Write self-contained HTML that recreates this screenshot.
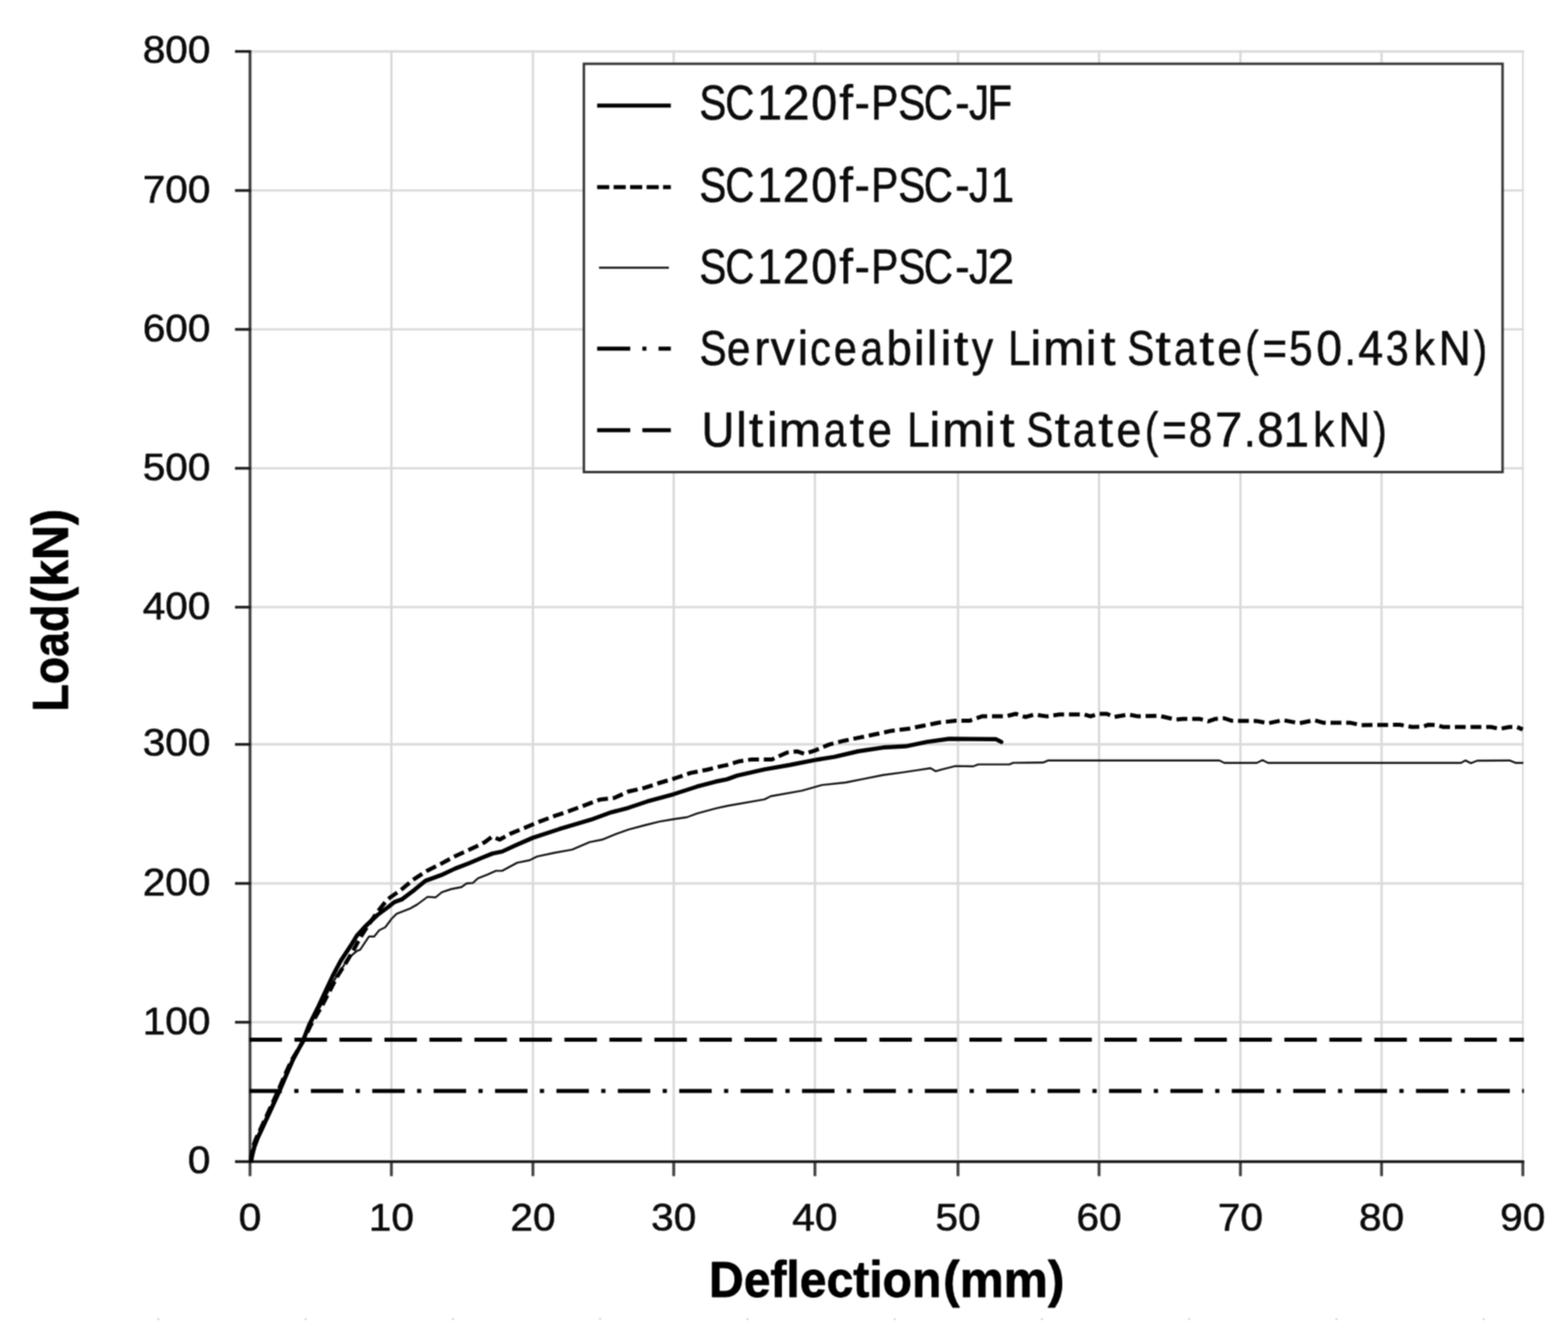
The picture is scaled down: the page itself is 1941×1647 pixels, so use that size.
<!DOCTYPE html>
<html lang="en"><head><meta charset="utf-8"><title>Load-Deflection</title>
<style>html,body{margin:0;padding:0;background:#fff}svg{display:block}text{font-family:"Liberation Sans",sans-serif;fill:#0c0c0c;stroke:#0c0c0c;stroke-width:.7px;stroke-linejoin:round}.b{font-weight:bold;fill:#000;stroke:#000;stroke-width:.9px}</style></head><body>
<svg width="1941" height="1647" viewBox="0 0 1941 1647">
<defs><filter id="soft" x="0" y="0" width="1941" height="1647" filterUnits="userSpaceOnUse" color-interpolation-filters="sRGB"><feConvolveMatrix order="3" kernelMatrix="1 2 1 2 4 2 1 2 1" divisor="16" edgeMode="duplicate" preserveAlpha="true"/></filter></defs>
<g filter="url(#soft)">
<rect width="1941" height="1647" fill="#fff"/>
<g stroke="#dadada" stroke-width="2.9" fill="none">
<line x1="309.5" y1="1265.9" x2="1886.6" y2="1265.9"/>
<line x1="309.5" y1="1094.0" x2="1886.6" y2="1094.0"/>
<line x1="309.5" y1="921.8" x2="1886.6" y2="921.8"/>
<line x1="309.5" y1="751.9" x2="1886.6" y2="751.9"/>
<line x1="309.5" y1="579.9" x2="1886.6" y2="579.9"/>
<line x1="309.5" y1="407.9" x2="1886.6" y2="407.9"/>
<line x1="309.5" y1="235.9" x2="1886.6" y2="235.9"/>
<line x1="309.5" y1="63.7" x2="1886.6" y2="63.7"/>
<line x1="484.5" y1="62.2" x2="484.5" y2="1435.5"/>
<line x1="659.7" y1="62.2" x2="659.7" y2="1435.5"/>
<line x1="834.0" y1="62.2" x2="834.0" y2="1435.5"/>
<line x1="1008.8" y1="62.2" x2="1008.8" y2="1435.5"/>
<line x1="1185.9" y1="62.2" x2="1185.9" y2="1435.5"/>
<line x1="1360.5" y1="62.2" x2="1360.5" y2="1435.5"/>
<line x1="1535.5" y1="62.2" x2="1535.5" y2="1435.5"/>
<line x1="1710.2" y1="62.2" x2="1710.2" y2="1435.5"/>
<line x1="1885.1" y1="62.2" x2="1885.1" y2="1435.5" stroke-width="2.2"/>
</g>
<g stroke="#444" stroke-width="3.6" fill="none">
<line x1="309.5" y1="62.3" x2="309.5" y2="1456.5"/>
<line x1="484.5" y1="1437.5" x2="484.5" y2="1456.5"/>
<line x1="659.7" y1="1437.5" x2="659.7" y2="1456.5"/>
<line x1="834.0" y1="1437.5" x2="834.0" y2="1456.5"/>
<line x1="1008.8" y1="1437.5" x2="1008.8" y2="1456.5"/>
<line x1="1185.9" y1="1437.5" x2="1185.9" y2="1456.5"/>
<line x1="1360.5" y1="1437.5" x2="1360.5" y2="1456.5"/>
<line x1="1535.5" y1="1437.5" x2="1535.5" y2="1456.5"/>
<line x1="1710.2" y1="1437.5" x2="1710.2" y2="1456.5"/>
<line x1="1885.1" y1="1437.5" x2="1885.1" y2="1456.5"/>
</g>
<g stroke="#1a1a1a" stroke-width="3.3" fill="none">
<line x1="290.9" y1="1438.5" x2="1886.8" y2="1438.5"/>
<line x1="290.9" y1="1265.9" x2="310.5" y2="1265.9"/>
<line x1="290.9" y1="1094.0" x2="310.5" y2="1094.0"/>
<line x1="290.9" y1="921.8" x2="310.5" y2="921.8"/>
<line x1="290.9" y1="751.9" x2="310.5" y2="751.9"/>
<line x1="290.9" y1="579.9" x2="310.5" y2="579.9"/>
<line x1="290.9" y1="407.9" x2="310.5" y2="407.9"/>
<line x1="290.9" y1="235.9" x2="310.5" y2="235.9"/>
<line x1="290.9" y1="63.7" x2="310.5" y2="63.7"/>
</g>
<line x1="308.8" y1="1287.4" x2="1886.4" y2="1287.4" stroke="#000" stroke-width="5" stroke-dasharray="40.2 15.5"/>
<line x1="308.8" y1="1351.1" x2="1886.4" y2="1351.1" stroke="#000" stroke-width="5" stroke-dasharray="40.2 15.3 5.2 15.3"/>
<polyline points="311.2,1437.5 313.4,1430.0 316.3,1420.0 320.1,1410.0 324.8,1400.0 329.4,1390.0 334.1,1380.0 337.8,1371.9 347.6,1350.5 356.3,1330.0 363.8,1312.5 375.4,1290.0 383.2,1270.0 397.0,1245.6 406.5,1227.4 416.5,1209.2 425.4,1196.0 429.6,1187.7 442.0,1177.5 445.8,1176.2 456.8,1159.7 463.2,1159.7 469.4,1152.0 476.9,1148.2 484.6,1138.0 490.9,1131.6 507.5,1125.2 516.4,1120.1 529.2,1110.6 539.4,1111.2 547.0,1104.8 558.5,1101.0 571.3,1098.5 577.6,1094.0 585.3,1093.4 591.7,1087.6 603.2,1083.2 613.9,1078.4 621.6,1078.4 640.2,1068.4 655.6,1065.3 664.9,1060.6 686.6,1056.0 708.2,1052.1 729.8,1042.9 745.3,1039.8 762.3,1032.8 777.7,1027.4 797.8,1022.0 816.4,1017.4 834.9,1014.3 850.4,1012.0 862.8,1007.3 885.9,1001.1 900.0,998.0 946.4,989.9 954.1,986.0 992.7,979.1 1017.5,972.1 1046.8,969.0 1070.0,964.4 1093.2,959.7 1116.4,956.6 1136.5,953.6 1151.9,951.2 1158.1,955.1 1165.8,952.8 1182.8,948.6 1204.7,949.0 1210.9,946.6 1249.5,946.6 1254.2,944.6 1291.3,944.3 1297.5,941.7 1509.5,941.7 1515.6,944.8 1555.8,944.8 1562.8,941.2 1569.7,944.8 1808.5,944.8 1813.9,941.7 1820.8,945.1 1828.6,942.0 1868.7,941.7 1876.5,944.8 1885.7,944.8" fill="none" stroke="#111" stroke-width="2.4" stroke-linejoin="round"/>
<polyline points="310.6,1437.5 311.4,1430.0 313.3,1420.0 316.9,1410.0 321.6,1400.0 326.2,1390.0 330.9,1380.0 334.6,1371.9 344.4,1350.5 353.2,1330.0 361.2,1312.5 375.0,1290.0 384.4,1270.0 398.5,1245.6 408.0,1227.4 417.5,1209.2 426.8,1194.6 436.8,1178.0 445.4,1162.0 455.0,1147.0 466.0,1131.0 479.5,1113.8 496.0,1102.3 511.3,1089.5 527.9,1078.7 544.5,1070.4 562.4,1060.8 578.9,1053.2 590.0,1048.0 600.0,1042.9 609.3,1035.9 618.5,1039.8 632.5,1032.1 649.5,1025.1 668.0,1017.4 686.6,1010.4 705.1,1004.2 723.6,997.3 742.2,990.3 760.7,988.0 777.7,980.3 797.8,975.6 816.4,969.5 834.9,964.0 855.0,957.1 875.1,953.2 893.7,948.6 900.0,947.4 915.5,942.7 930.9,940.4 955.6,940.4 974.2,931.9 986.6,930.4 995.8,933.5 1008.2,929.6 1026.7,921.9 1045.3,917.2 1063.8,913.4 1082.4,909.5 1104.0,904.9 1124.1,902.6 1142.7,898.7 1162.8,894.8 1182.8,892.5 1200.0,892.6 1215.5,887.1 1244.9,887.1 1257.3,884.0 1269.6,887.9 1280.5,884.8 1295.9,887.1 1311.4,884.8 1342.3,884.8 1350.0,887.1 1359.3,884.0 1370.1,884.0 1379.4,887.9 1396.4,884.8 1408.7,887.1 1435.0,886.4 1455.1,891.0 1464.6,890.2 1484.7,890.2 1495.5,893.3 1504.8,890.2 1515.6,889.5 1524.9,892.6 1555.8,892.9 1569.7,895.6 1588.3,891.8 1608.4,895.6 1626.9,891.8 1637.7,894.9 1670.9,894.9 1684.8,898.0 1732.7,897.5 1748.2,900.3 1760.6,900.0 1768.3,897.5 1779.1,898.0 1786.8,900.3 1845.6,900.3 1856.4,902.6 1868.7,900.3 1878.0,900.3 1885.0,903.4" fill="none" stroke="#000" stroke-width="5" stroke-dasharray="13.4 6" stroke-linejoin="round"/>
<polyline points="310.9,1437.5 312.4,1430.0 314.8,1420.0 318.5,1410.0 323.2,1400.0 327.8,1390.0 332.5,1380.0 336.2,1371.9 346.0,1350.5 354.8,1330.0 362.5,1312.5 374.6,1290.0 382.4,1270.0 394.5,1245.6 403.0,1227.4 412.1,1208.0 421.7,1190.0 434.2,1171.0 441.5,1159.0 451.4,1148.0 466.7,1133.5 479.5,1124.0 488.4,1117.0 497.3,1113.8 512.6,1102.3 526.6,1090.8 545.8,1083.8 563.6,1075.5 580.2,1069.1 596.8,1062.1 609.5,1057.0 621.6,1054.5 638.6,1046.7 659.5,1037.5 692.7,1026.6 731.4,1015.1 754.6,1006.6 777.7,1000.4 800.9,992.6 834.2,983.4 862.8,974.1 885.9,967.9 900.0,965.0 912.4,960.5 946.4,952.8 977.3,947.4 1008.2,941.2 1032.9,937.3 1062.3,930.4 1093.2,925.7 1121.0,924.2 1147.3,918.8 1175.1,914.9 1200.0,915.1 1232.6,915.3 1239.5,918.8" fill="none" stroke="#000" stroke-width="5.2" stroke-linejoin="round" stroke-linecap="round"/>
<rect x="722.8" y="79" width="1137.2" height="505.6" fill="#fff" stroke="#333" stroke-width="3"/>
<line x1="739.2" y1="130.7" x2="830.4" y2="130.7" stroke="#000" stroke-width="5"/>
<line x1="739.2" y1="231.8" x2="830.4" y2="231.8" stroke="#000" stroke-width="5" stroke-dasharray="15 5.4"/>
<line x1="741.5" y1="331.5" x2="828" y2="331.5" stroke="#111" stroke-width="2.4"/>
<line x1="739.2" y1="431.8" x2="830.4" y2="431.8" stroke="#000" stroke-width="5" stroke-dasharray="41 15 5 15"/>
<line x1="739.2" y1="532.7" x2="830.4" y2="532.7" stroke="#000" stroke-width="5" stroke-dasharray="41 15"/>
<text y="148.3" font-size="61"><tspan x="865.8" textLength="33.4" lengthAdjust="spacingAndGlyphs">S</tspan><tspan x="897.7" textLength="36.1" lengthAdjust="spacingAndGlyphs">C</tspan><tspan x="937.6" textLength="30.4" lengthAdjust="spacingAndGlyphs">1</tspan><tspan x="969.1" textLength="33.1" lengthAdjust="spacingAndGlyphs">2</tspan><tspan x="1004.2" textLength="32.1" lengthAdjust="spacingAndGlyphs">0</tspan><tspan x="1039.0" textLength="16.9" lengthAdjust="spacingAndGlyphs">f</tspan><tspan x="1057.8" textLength="19.0" lengthAdjust="spacingAndGlyphs">-</tspan><tspan x="1078.4" textLength="33.4" lengthAdjust="spacingAndGlyphs">P</tspan><tspan x="1112.0" textLength="33.4" lengthAdjust="spacingAndGlyphs">S</tspan><tspan x="1143.5" textLength="36.1" lengthAdjust="spacingAndGlyphs">C</tspan><tspan x="1182.5" textLength="17.8" lengthAdjust="spacingAndGlyphs">-</tspan><tspan x="1199.6" textLength="25.0" lengthAdjust="spacingAndGlyphs">J</tspan><tspan x="1222.2" textLength="30.6" lengthAdjust="spacingAndGlyphs">F</tspan></text>
<text y="249.6" font-size="61"><tspan x="865.8" textLength="33.4" lengthAdjust="spacingAndGlyphs">S</tspan><tspan x="897.7" textLength="36.1" lengthAdjust="spacingAndGlyphs">C</tspan><tspan x="937.6" textLength="30.4" lengthAdjust="spacingAndGlyphs">1</tspan><tspan x="969.1" textLength="33.1" lengthAdjust="spacingAndGlyphs">2</tspan><tspan x="1004.2" textLength="32.1" lengthAdjust="spacingAndGlyphs">0</tspan><tspan x="1039.0" textLength="16.9" lengthAdjust="spacingAndGlyphs">f</tspan><tspan x="1057.8" textLength="19.0" lengthAdjust="spacingAndGlyphs">-</tspan><tspan x="1078.4" textLength="33.4" lengthAdjust="spacingAndGlyphs">P</tspan><tspan x="1112.0" textLength="33.4" lengthAdjust="spacingAndGlyphs">S</tspan><tspan x="1143.5" textLength="36.1" lengthAdjust="spacingAndGlyphs">C</tspan><tspan x="1182.5" textLength="17.8" lengthAdjust="spacingAndGlyphs">-</tspan><tspan x="1199.6" textLength="25.0" lengthAdjust="spacingAndGlyphs">J</tspan><tspan x="1226.2" textLength="29.2" lengthAdjust="spacingAndGlyphs">1</tspan></text>
<text y="350.8" font-size="61"><tspan x="865.8" textLength="33.4" lengthAdjust="spacingAndGlyphs">S</tspan><tspan x="897.7" textLength="36.1" lengthAdjust="spacingAndGlyphs">C</tspan><tspan x="937.6" textLength="30.4" lengthAdjust="spacingAndGlyphs">1</tspan><tspan x="969.1" textLength="33.1" lengthAdjust="spacingAndGlyphs">2</tspan><tspan x="1004.2" textLength="32.1" lengthAdjust="spacingAndGlyphs">0</tspan><tspan x="1039.0" textLength="16.9" lengthAdjust="spacingAndGlyphs">f</tspan><tspan x="1057.8" textLength="19.0" lengthAdjust="spacingAndGlyphs">-</tspan><tspan x="1078.4" textLength="33.4" lengthAdjust="spacingAndGlyphs">P</tspan><tspan x="1112.0" textLength="33.4" lengthAdjust="spacingAndGlyphs">S</tspan><tspan x="1143.5" textLength="36.1" lengthAdjust="spacingAndGlyphs">C</tspan><tspan x="1182.5" textLength="17.8" lengthAdjust="spacingAndGlyphs">-</tspan><tspan x="1199.6" textLength="25.0" lengthAdjust="spacingAndGlyphs">J</tspan><tspan x="1222.6" textLength="33.1" lengthAdjust="spacingAndGlyphs">2</tspan></text>
<text y="451.7" font-size="61"><tspan x="866.1" textLength="33.4" lengthAdjust="spacingAndGlyphs">S</tspan><tspan x="899.7" textLength="29.2" lengthAdjust="spacingAndGlyphs">e</tspan><tspan x="933.9" textLength="18.3" lengthAdjust="spacingAndGlyphs">r</tspan><tspan x="954.0" textLength="30.0" lengthAdjust="spacingAndGlyphs">v</tspan><tspan x="987.2" textLength="13.1" lengthAdjust="spacingAndGlyphs">i</tspan><tspan x="1002.8" textLength="25.8" lengthAdjust="spacingAndGlyphs">c</tspan><tspan x="1032.2" textLength="28.3" lengthAdjust="spacingAndGlyphs">e</tspan><tspan x="1065.2" textLength="27.8" lengthAdjust="spacingAndGlyphs">a</tspan><tspan x="1097.2" textLength="31.5" lengthAdjust="spacingAndGlyphs">b</tspan><tspan x="1130.9" textLength="14.0" lengthAdjust="spacingAndGlyphs">i</tspan><tspan x="1147.2" textLength="12.9" lengthAdjust="spacingAndGlyphs">l</tspan><tspan x="1163.9" textLength="14.0" lengthAdjust="spacingAndGlyphs">i</tspan><tspan x="1180.8" textLength="18.0" lengthAdjust="spacingAndGlyphs">t</tspan><tspan x="1203.0" textLength="26.4" lengthAdjust="spacingAndGlyphs">y</tspan> <tspan x="1247.9" textLength="27.8" lengthAdjust="spacingAndGlyphs">L</tspan><tspan x="1275.5" textLength="13.6" lengthAdjust="spacingAndGlyphs">i</tspan><tspan x="1291.1" textLength="51.8" lengthAdjust="spacingAndGlyphs">m</tspan><tspan x="1344.0" textLength="13.3" lengthAdjust="spacingAndGlyphs">i</tspan><tspan x="1362.8" textLength="18.2" lengthAdjust="spacingAndGlyphs">t</tspan> <tspan x="1395.5" textLength="33.4" lengthAdjust="spacingAndGlyphs">S</tspan><tspan x="1430.3" textLength="19.0" lengthAdjust="spacingAndGlyphs">t</tspan><tspan x="1453.2" textLength="27.8" lengthAdjust="spacingAndGlyphs">a</tspan><tspan x="1484.8" textLength="18.2" lengthAdjust="spacingAndGlyphs">t</tspan><tspan x="1506.8" textLength="30.9" lengthAdjust="spacingAndGlyphs">e</tspan><tspan x="1541.6" textLength="16.7" lengthAdjust="spacingAndGlyphs">(</tspan><tspan x="1562.8" textLength="30.5" lengthAdjust="spacingAndGlyphs">=</tspan><tspan x="1595.8" textLength="29.1" lengthAdjust="spacingAndGlyphs">5</tspan><tspan x="1629.5" textLength="31.8" lengthAdjust="spacingAndGlyphs">0</tspan><tspan x="1664.2" textLength="14.3" lengthAdjust="spacingAndGlyphs">.</tspan><tspan x="1681.5" textLength="30.7" lengthAdjust="spacingAndGlyphs">4</tspan><tspan x="1715.4" textLength="28.2" lengthAdjust="spacingAndGlyphs">3</tspan><tspan x="1749.9" textLength="26.2" lengthAdjust="spacingAndGlyphs">k</tspan><tspan x="1781.0" textLength="39.6" lengthAdjust="spacingAndGlyphs">N</tspan><tspan x="1824.3" textLength="16.7" lengthAdjust="spacingAndGlyphs">)</tspan></text>
<text y="552.7" font-size="61"><tspan x="868.4" textLength="40.7" lengthAdjust="spacingAndGlyphs">U</tspan><tspan x="911.2" textLength="13.1" lengthAdjust="spacingAndGlyphs">l</tspan><tspan x="927.0" textLength="17.8" lengthAdjust="spacingAndGlyphs">t</tspan><tspan x="949.2" textLength="13.3" lengthAdjust="spacingAndGlyphs">i</tspan><tspan x="963.8" textLength="52.8" lengthAdjust="spacingAndGlyphs">m</tspan><tspan x="1019.7" textLength="27.8" lengthAdjust="spacingAndGlyphs">a</tspan><tspan x="1051.7" textLength="17.8" lengthAdjust="spacingAndGlyphs">t</tspan><tspan x="1074.0" textLength="30.1" lengthAdjust="spacingAndGlyphs">e</tspan> <tspan x="1123.0" textLength="27.8" lengthAdjust="spacingAndGlyphs">L</tspan><tspan x="1150.5" textLength="13.6" lengthAdjust="spacingAndGlyphs">i</tspan><tspan x="1166.2" textLength="51.8" lengthAdjust="spacingAndGlyphs">m</tspan><tspan x="1219.1" textLength="13.3" lengthAdjust="spacingAndGlyphs">i</tspan><tspan x="1237.8" textLength="18.2" lengthAdjust="spacingAndGlyphs">t</tspan> <tspan x="1270.6" textLength="33.4" lengthAdjust="spacingAndGlyphs">S</tspan><tspan x="1305.4" textLength="19.0" lengthAdjust="spacingAndGlyphs">t</tspan><tspan x="1328.3" textLength="27.8" lengthAdjust="spacingAndGlyphs">a</tspan><tspan x="1359.8" textLength="18.2" lengthAdjust="spacingAndGlyphs">t</tspan><tspan x="1381.9" textLength="30.9" lengthAdjust="spacingAndGlyphs">e</tspan><tspan x="1417.3" textLength="16.7" lengthAdjust="spacingAndGlyphs">(</tspan><tspan x="1438.5" textLength="30.5" lengthAdjust="spacingAndGlyphs">=</tspan><tspan x="1471.5" textLength="29.1" lengthAdjust="spacingAndGlyphs">8</tspan><tspan x="1504.0" textLength="34.0" lengthAdjust="spacingAndGlyphs">7</tspan><tspan x="1539.9" textLength="14.3" lengthAdjust="spacingAndGlyphs">.</tspan><tspan x="1556.2" textLength="32.8" lengthAdjust="spacingAndGlyphs">8</tspan><tspan x="1589.1" textLength="31.3" lengthAdjust="spacingAndGlyphs">1</tspan><tspan x="1625.6" textLength="26.2" lengthAdjust="spacingAndGlyphs">k</tspan><tspan x="1656.7" textLength="39.6" lengthAdjust="spacingAndGlyphs">N</tspan><tspan x="1700.0" textLength="16.7" lengthAdjust="spacingAndGlyphs">)</tspan></text>
<text x="232.6" y="1453.1" font-size="48.5" textLength="27.9" lengthAdjust="spacingAndGlyphs">0</text>
<text x="176.7" y="1280.5" font-size="48.5" textLength="83.8" lengthAdjust="spacingAndGlyphs">100</text>
<text x="176.7" y="1108.6" font-size="48.5" textLength="83.8" lengthAdjust="spacingAndGlyphs">200</text>
<text x="176.7" y="936.4" font-size="48.5" textLength="83.8" lengthAdjust="spacingAndGlyphs">300</text>
<text x="176.7" y="766.5" font-size="48.5" textLength="83.8" lengthAdjust="spacingAndGlyphs">400</text>
<text x="176.7" y="594.5" font-size="48.5" textLength="83.8" lengthAdjust="spacingAndGlyphs">500</text>
<text x="176.7" y="422.5" font-size="48.5" textLength="83.8" lengthAdjust="spacingAndGlyphs">600</text>
<text x="176.7" y="250.5" font-size="48.5" textLength="83.8" lengthAdjust="spacingAndGlyphs">700</text>
<text x="176.7" y="78.3" font-size="48.5" textLength="83.8" lengthAdjust="spacingAndGlyphs">800</text>
<text x="295.5" y="1524.3" font-size="48.5" textLength="27.9" lengthAdjust="spacingAndGlyphs">0</text>
<text x="456.6" y="1524.3" font-size="48.5" textLength="55.9" lengthAdjust="spacingAndGlyphs">10</text>
<text x="631.8" y="1524.3" font-size="48.5" textLength="55.9" lengthAdjust="spacingAndGlyphs">20</text>
<text x="806.0" y="1524.3" font-size="48.5" textLength="55.9" lengthAdjust="spacingAndGlyphs">30</text>
<text x="980.8" y="1524.3" font-size="48.5" textLength="55.9" lengthAdjust="spacingAndGlyphs">40</text>
<text x="1158.0" y="1524.3" font-size="48.5" textLength="55.9" lengthAdjust="spacingAndGlyphs">50</text>
<text x="1332.5" y="1524.3" font-size="48.5" textLength="55.9" lengthAdjust="spacingAndGlyphs">60</text>
<text x="1507.5" y="1524.3" font-size="48.5" textLength="55.9" lengthAdjust="spacingAndGlyphs">70</text>
<text x="1682.2" y="1524.3" font-size="48.5" textLength="55.9" lengthAdjust="spacingAndGlyphs">80</text>
<text x="1857.1" y="1524.3" font-size="48.5" textLength="55.9" lengthAdjust="spacingAndGlyphs">90</text>
<text class="b" y="1606.0" font-size="63"><tspan x="877.7" textLength="287.6" lengthAdjust="spacingAndGlyphs">Deflection</tspan><tspan x="1167.6" textLength="150.0" lengthAdjust="spacingAndGlyphs">(mm)</tspan></text>
<text class="b" transform="translate(83.9 0) rotate(-90)" y="0" font-size="63"><tspan x="-881.0" textLength="132.2" lengthAdjust="spacingAndGlyphs">Load</tspan><tspan x="-746.7" textLength="116.5" lengthAdjust="spacingAndGlyphs">(kN)</tspan></text>
<g fill="#d0d0d0">
<circle cx="196.0" cy="1633.5" r="1.3"/>
<circle cx="378.3" cy="1633.5" r="1.3"/>
<circle cx="560.6" cy="1633.5" r="1.3"/>
<circle cx="742.9" cy="1633.5" r="1.3"/>
<circle cx="925.2" cy="1633.5" r="1.3"/>
<circle cx="1107.5" cy="1633.5" r="1.3"/>
<circle cx="1289.8" cy="1633.5" r="1.3"/>
<circle cx="1472.1" cy="1633.5" r="1.3"/>
<circle cx="1654.4" cy="1633.5" r="1.3"/>
<circle cx="1836.7" cy="1633.5" r="1.3"/>
</g>
</g>
</svg></body></html>
